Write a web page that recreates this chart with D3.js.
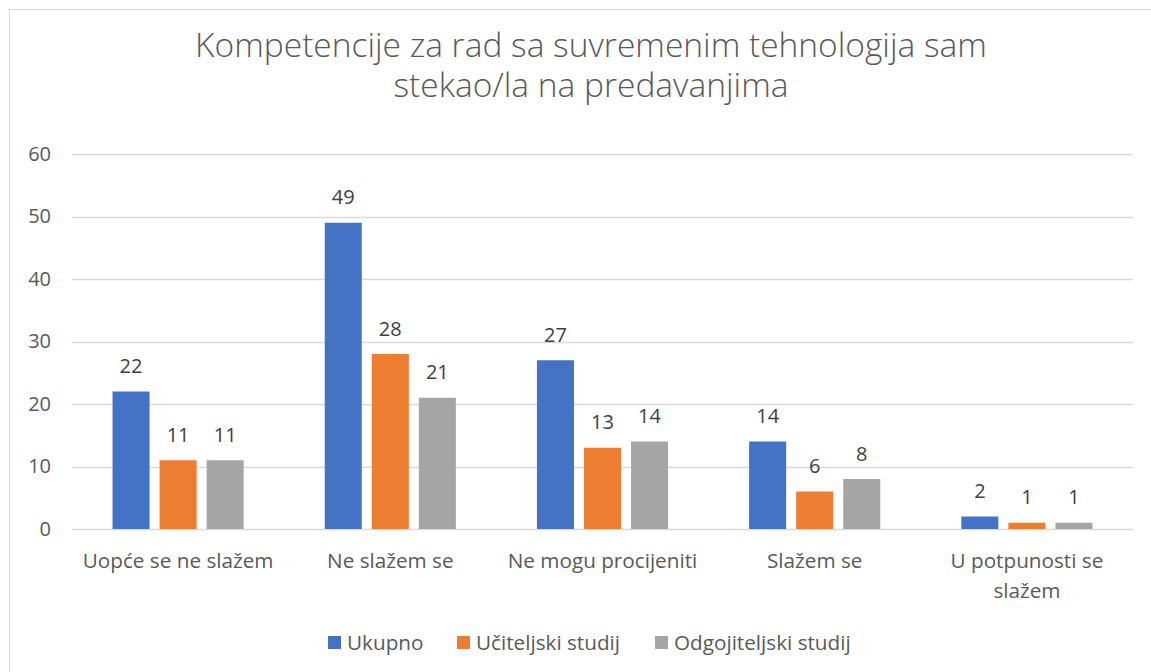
<!DOCTYPE html>
<html>
<head>
<meta charset="utf-8">
<script src="https://cdn.jsdelivr.net/npm/d3@7"></script>
<style>
  body { margin: 0; background: #fff; }
  svg { display: block; }
</style>
</head>
<body>
<script>
// chart data
const categories = ['Uopće se ne slažem', 'Ne slažem se', 'Ne mogu procijeniti', 'Slažem se', 'U potpunosti se slažem'];
const seriesNames = ['Ukupno', 'Učiteljski studij', 'Odgojiteljski studij'];
const ukupno = [22, 49, 27, 14, 2];
const uciteljski = [11, 28, 13, 6, 1];
const odgojiteljski = [11, 21, 14, 8, 1];
const yTicks = [0, 10, 20, 30, 40, 50, 60];
const titleLines = ['Kompetencije za rad sa suvremenim tehnologija sam', 'stekao/la na predavanjima'];

const seriesValues = [ukupno, uciteljski, odgojiteljski];
const colors = ['#4472c4', '#ed7d31', '#a5a5a5'];

const width = 1151, height = 672;
const margin = {top: 154, right: 18, bottom: 143, left: 72};
const font = '"Open Sans", sans-serif';
const fsNum = 20;   // digits
const fsText = 20.7; // words

const svg = d3.select('body').append('svg')
  .attr('width', width)
  .attr('height', height);

// chart frame (only top and left show in the picture)
svg.append('rect')
  .attr('x', 9.5).attr('y', 9.5)
  .attr('width', width + 10).attr('height', height + 10)
  .attr('fill', 'none')
  .attr('stroke', '#d9d9d9');

const x0 = d3.scaleBand()
  .domain(categories)
  .range([margin.left, width - margin.right])
  .paddingInner(0.382)
  .paddingOuter(0.191);

const x1 = d3.scaleBand()
  .domain(seriesNames)
  .range([0, x0.bandwidth()])
  .paddingInner(0.213);

const y = d3.scaleLinear()
  .domain([0, 60])
  .range([height - margin.bottom, margin.top]);

// gridlines
svg.append('g')
  .selectAll('line')
  .data(yTicks)
  .join('line')
  .attr('x1', margin.left)
  .attr('x2', width - margin.right)
  .attr('y1', d => Math.round(y(d)) + 0.5)
  .attr('y2', d => Math.round(y(d)) + 0.5)
  .attr('stroke', '#d9d9d9')
  .attr('stroke-width', 1.3);

// Y axis labels
const yAxis = d3.axisLeft(y).tickValues(yTicks).tickSize(0).tickPadding(21);
svg.append('g')
  .attr('transform', `translate(${margin.left},0)`)
  .call(yAxis)
  .call(g => g.select('.domain').remove())
  .selectAll('text')
  .attr('font-family', font)
  .attr('font-size', fsNum)
  .attr('fill', '#595959');

// bars
const groups = svg.append('g')
  .selectAll('g')
  .data(seriesValues)
  .join('g')
  .attr('fill', (d, i) => colors[i]);

groups.selectAll('rect')
  .data((vals, si) => vals.map((v, ci) => ({v, ci, si})))
  .join('rect')
  .attr('x', d => x0(categories[d.ci]) + x1(seriesNames[d.si]))
  .attr('y', d => y(d.v))
  .attr('width', x1.bandwidth())
  .attr('height', d => y(0) - y(d.v));

// value labels
groups.selectAll('text')
  .data((vals, si) => vals.map((v, ci) => ({v, ci, si})))
  .join('text')
  .attr('x', d => x0(categories[d.ci]) + x1(seriesNames[d.si]) + x1.bandwidth() / 2)
  .attr('y', d => y(d.v) - 18.5)
  .attr('text-anchor', 'middle')
  .attr('font-family', font)
  .attr('font-size', fsNum)
  .attr('fill', '#404040')
  .text(d => d.v);

// X axis labels (wrap the long one)
const xAxis = d3.axisBottom(x0).tickSize(0).tickPadding(0);
svg.append('g')
  .attr('transform', `translate(0,${y(0)})`)
  .call(xAxis)
  .call(g => g.select('.domain').remove())
  .selectAll('text')
  .attr('font-family', font)
  .attr('font-size', fsText)
  .attr('fill', '#595959')
  .attr('dy', null)
  .attr('y', 39)
  .each(function(d) {
    const t = d3.select(this);
    if (d === 'U potpunosti se slažem') {
      t.text(null);
      t.append('tspan').attr('x', 0).attr('y', 39).text('U potpunosti se');
      t.append('tspan').attr('x', 0).attr('y', 68.5).text('slažem');
    }
  });

// title
svg.append('text')
  .attr('x', 591)
  .attr('y', 57)
  .attr('text-anchor', 'middle')
  .attr('font-family', font)
  .attr('font-weight', 300)
  .attr('font-size', 33.5)
  .attr('fill', '#595959')
  .selectAll('tspan')
  .data(titleLines)
  .join('tspan')
  .attr('x', 591)
  .attr('dy', (d, i) => i === 0 ? 0 : 40)
  .text(d => d);

// legend
const legendX = [328, 457, 655];
const legend = svg.append('g')
  .selectAll('g')
  .data(seriesNames)
  .join('g')
  .attr('transform', (d, i) => `translate(${legendX[i]},636)`);

legend.append('rect')
  .attr('width', 13).attr('height', 13)
  .attr('fill', (d, i) => colors[i]);

legend.append('text')
  .attr('x', 19)
  .attr('y', 14)
  .attr('font-family', font)
  .attr('font-size', fsText)
  .attr('fill', '#595959')
  .text(d => d);
</script>
</body>
</html>
